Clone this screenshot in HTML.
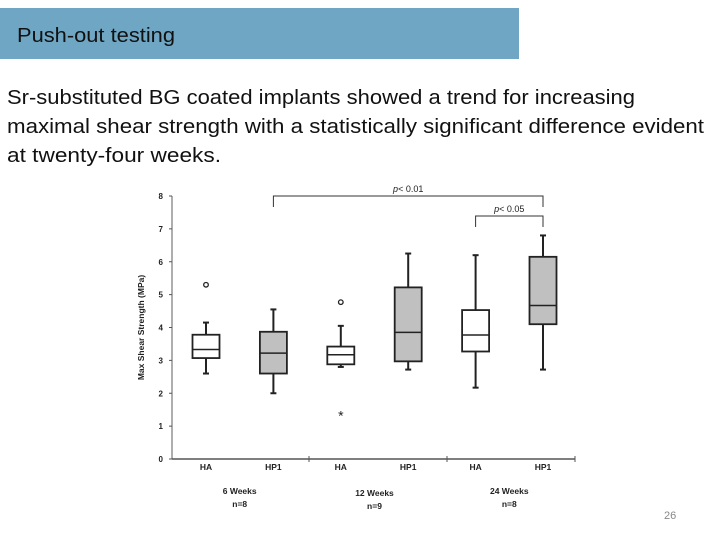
<!DOCTYPE html>
<html><head><meta charset="utf-8"><style>
html,body{margin:0;padding:0;background:#fff;width:720px;height:540px;overflow:hidden}
svg{display:block}
text{font-family:"Liberation Sans",Arial,sans-serif}
</style></head><body>
<svg id="s" width="720" height="540" viewBox="0 0 720 540">
<rect x="0" y="8" width="519" height="51" fill="#6ea6c4"/>
<text x="17" y="42" font-size="20" fill="#111" textLength="158" lengthAdjust="spacingAndGlyphs">Push-out testing</text>
<g font-size="20" fill="#111">
<text x="7" y="104" textLength="628" lengthAdjust="spacingAndGlyphs">Sr-substituted BG coated implants showed a trend for increasing</text>
<text x="7" y="133" textLength="697" lengthAdjust="spacingAndGlyphs">maximal shear strength with a statistically significant difference evident</text>
<text x="7" y="162" textLength="214" lengthAdjust="spacingAndGlyphs">at twenty-four weeks.</text>
</g>
<text x="664" y="519" font-size="11" fill="#888">26</text>
<g id="chart"></g>
</svg>
<script>
const groups = ["HA","HP1","HA","HP1","HA","HP1"];
const whiskerLow  = [2.6, 2.0, 2.8, 2.72, 2.17, 2.72];
const q1          = [3.07, 2.6, 2.88, 2.97, 3.27, 4.1];
const medians     = [3.33, 3.22, 3.17, 3.85, 3.77, 4.67];
const q3          = [3.78, 3.87, 3.42, 5.22, 4.53, 6.15];
const whiskerHigh = [4.15, 4.55, 4.05, 6.25, 6.2, 6.8];
const outlierCircles = [[0, 5.3], [2, 4.77]];
const outlierStars = [[2, 1.35]];
const yTicks = [0,1,2,3,4,5,6,7,8];
const periods = ["6 Weeks","12 Weeks","24 Weeks"];
const periodN = ["n=8","n=9","n=8"];

const NS="http://www.w3.org/2000/svg";
const g=document.getElementById('chart');
const X0=172, X1=575, Y0=459, Y8=196;
const y=v=>Y0-(Y0-Y8)*v/8;
const xc=i=>206+i*67.4;
function mk(tag,attrs,parent){const e=document.createElementNS(NS,tag);for(const k in attrs)e.setAttribute(k,attrs[k]);(parent||g).appendChild(e);return e;}

let e;
e=mk('line',{x1:X0,y1:Y8,x2:X0,y2:Y0,stroke:'#777','stroke-width':1.2});


e=mk('line',{x1:X0,y1:Y0,x2:X1,y2:Y0,stroke:'#555','stroke-width':1.5});


yTicks.forEach(t=>{
  mk('line',{x1:X0-3,y1:y(t),x2:X0,y2:y(t),stroke:'#555'});
  e=mk('text',{x:X0-9,y:y(t)+3,'font-size':8,'font-weight':'bold','text-anchor':'end',fill:'#222'});
  e.textContent=t;
  
  
});
e=mk('text',{x:0,y:0,'font-size':8.5,'font-weight':'bold',fill:'#222','text-anchor':'middle',transform:`translate(144,${y(4)}) rotate(-90)`});
e.textContent='Max Shear Strength (MPa)';


[309,447].forEach(sx=>mk('line',{x1:sx,y1:Y0-3,x2:sx,y2:Y0+3,stroke:'#555'}));
mk('line',{x1:X1,y1:Y0-3,x2:X1,y2:Y0+3,stroke:'#555'});

const bw=27;
groups.forEach((lab,i)=>{
  const cx=xc(i), fill=(i%2)?'#c0c0c0':'#fff';
  const bg=mk('g',{});
  
  
  mk('line',{x1:cx,y1:y(whiskerLow[i]),x2:cx,y2:y(whiskerHigh[i]),stroke:'#222','stroke-width':2},bg);
  mk('line',{x1:cx-3,y1:y(whiskerLow[i]),x2:cx+3,y2:y(whiskerLow[i]),stroke:'#222','stroke-width':2},bg);
  mk('line',{x1:cx-3,y1:y(whiskerHigh[i]),x2:cx+3,y2:y(whiskerHigh[i]),stroke:'#222','stroke-width':2},bg);
  mk('rect',{x:cx-bw/2,y:y(q3[i]),width:bw,height:y(q1[i])-y(q3[i]),fill:fill,stroke:'#222','stroke-width':1.8},bg);
  mk('line',{x1:cx-bw/2,y1:y(medians[i]),x2:cx+bw/2,y2:y(medians[i]),stroke:'#222','stroke-width':1.5},bg);
  e=mk('text',{x:cx,y:Y0+11,'font-size':8.5,'font-weight':'bold','text-anchor':'middle',fill:'#222'});
  e.textContent=lab;
  
  
});
outlierCircles.forEach(([i,v])=>{
  e=mk('circle',{cx:xc(i),cy:y(v),r:2.3,fill:'none',stroke:'#222','stroke-width':1.3});
  
  
});
outlierStars.forEach(([i,v])=>{
  e=mk('text',{x:xc(i),y:y(v)+6,'font-size':14,'text-anchor':'middle',fill:'#222'});
  e.textContent='*';
  
  
});
periods.forEach((p,k)=>{
  const cx=(xc(2*k)+xc(2*k+1))/2;
  e=mk('text',{x:cx,y:494+(k==1?2:0),'font-size':8.5,'font-weight':'bold','text-anchor':'middle',fill:'#222'});
  e.textContent=p;
  
  
  e=mk('text',{x:cx,y:507+(k==1?2:0),'font-size':8.5,'font-weight':'bold','text-anchor':'middle',fill:'#222'});
  e.textContent=periodN[k];
  
  
});
function bracket(i,j,top,lab,name){
  const b=mk('g',{});
  
  
  mk('path',{d:`M${xc(i)} ${top+11} V${top} H${xc(j)} V${top+11}`,fill:'none',stroke:'#333','stroke-width':1},b);
  const t=mk('text',{x:(xc(i)+xc(j))/2,y:top-4,'font-size':9,'text-anchor':'middle',fill:'#222'},b);
  t.innerHTML='<tspan font-style="italic">p</tspan>&lt; '+lab;
}
bracket(1,5,196,'0.01','significance-bracket-p001');
bracket(4,5,216,'0.05','significance-bracket-p005');
</script>
</body></html>
